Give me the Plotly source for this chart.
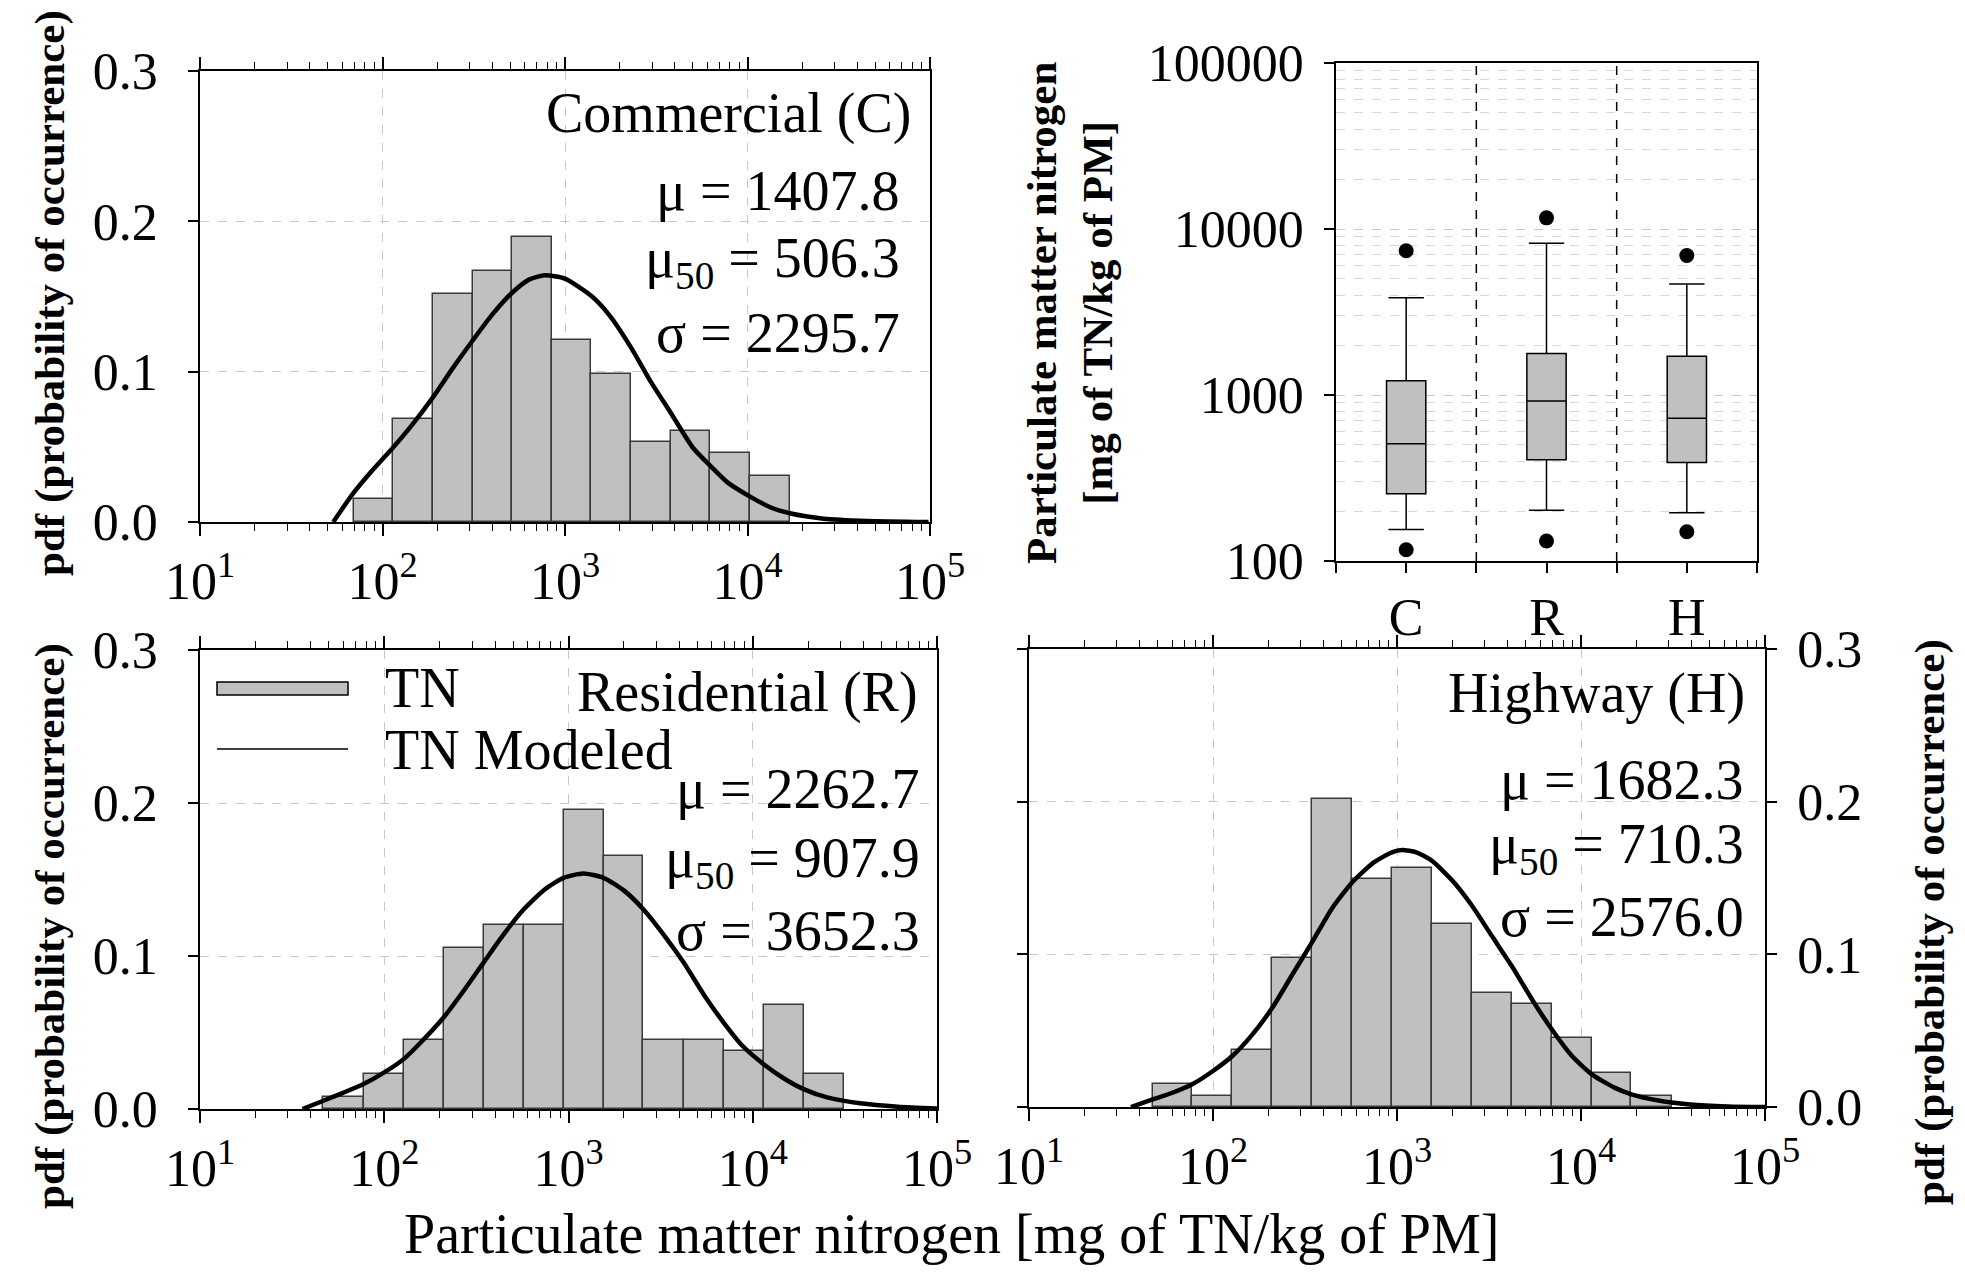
import numpy as np
import plotly.graph_objects as go

# ---------------- data ----------------
# histogram bin edges (log10 of mg TN / kg PM) and pdf heights
C_edges_log10 = [1.842, 2.059, 2.276, 2.494, 2.711, 2.928, 3.145, 3.363, 3.580, 3.797, 4.014, 4.232]
C_pdf = [0.0155, 0.0683, 0.1517, 0.1672, 0.1896, 0.1213, 0.0987, 0.0532, 0.0608, 0.0457, 0.0306]

R_edges_log10 = [1.670, 1.888, 2.105, 2.322, 2.539, 2.756, 2.973, 3.190, 3.407, 3.625, 3.842, 4.059, 4.276, 4.493]
R_pdf = [0.0076, 0.0228, 0.0452, 0.1054, 0.1204, 0.1204, 0.1954, 0.1654, 0.0452, 0.0452, 0.0378, 0.0678, 0.0228]

H_edges_log10 = [1.672, 1.887, 2.105, 2.323, 2.538, 2.756, 2.972, 3.190, 3.408, 3.623, 3.841, 4.059, 4.274, 4.492]
H_pdf = [0.0153, 0.0074, 0.0374, 0.0973, 0.2015, 0.1493, 0.1567, 0.1196, 0.0750, 0.0673, 0.0450, 0.0225, 0.0074]

# modeled curves (log10 x, pdf)
C_curve_log10 = [1.730, 1.842, 1.933, 2.057, 2.172, 2.275, 2.387, 2.492, 2.602, 2.710, 2.805, 2.889, 2.999,
                 3.145, 3.247, 3.362, 3.462, 3.579, 3.701, 3.797, 3.892, 4.014, 4.131, 4.232, 4.418, 4.657, 4.992]
C_curve_pdf = [0.0, 0.0195, 0.0328, 0.0494, 0.0661, 0.0827, 0.1027, 0.1204, 0.1381, 0.1525, 0.1614, 0.1641, 0.1619,
               0.1503, 0.1370, 0.1160, 0.0949, 0.0727, 0.0494, 0.0373, 0.0262, 0.0169, 0.0095, 0.0058, 0.0022, 0.0007, 0.0]

R_curve_log10 = [1.556, 1.670, 1.773, 1.888, 2.000, 2.105, 2.207, 2.322, 2.437, 2.539, 2.641, 2.756, 2.871, 2.973,
                 3.080, 3.190, 3.305, 3.407, 3.522, 3.625, 3.739, 3.842, 3.944, 4.059, 4.174, 4.276, 4.404, 4.582,
                 4.787, 5.0]
R_curve_pdf = [0.0, 0.0054, 0.0104, 0.0163, 0.0239, 0.0326, 0.0446, 0.0598, 0.0783, 0.0957, 0.1130, 0.1304, 0.1435,
               0.1511, 0.1539, 0.1511, 0.1424, 0.1304, 0.1130, 0.0957, 0.0739, 0.0565, 0.0413, 0.0293, 0.0196,
               0.0130, 0.0076, 0.0037, 0.0015, 0.0004]

H_curve_log10 = [1.554, 1.672, 1.772, 1.887, 2.000, 2.105, 2.208, 2.323, 2.438, 2.538, 2.644, 2.756, 2.874, 2.972,
                 3.028, 3.105, 3.190, 3.310, 3.408, 3.515, 3.623, 3.733, 3.841, 3.951, 4.059, 4.182, 4.274, 4.413,
                 4.592, 4.797, 5.0]
H_curve_pdf = [0.0, 0.0050, 0.0090, 0.0149, 0.0236, 0.0334, 0.0466, 0.0651, 0.0881, 0.1078, 0.1296, 0.1471, 0.1602,
               0.1668, 0.1683, 0.1668, 0.1613, 0.1471, 0.1318, 0.1121, 0.0925, 0.0706, 0.0509, 0.0334, 0.0214,
               0.0127, 0.0083, 0.0044, 0.0017, 0.0004, 0.0]

# box plot statistics (mg of TN / kg of PM)
box_categories = ["C", "R", "H"]
box_lowerfence = [155, 202, 195]
box_q1 = [254, 407, 392]
box_median = [509, 921, 725]
box_q3 = [1218, 1778, 1710]
box_upperfence = [3853, 8206, 4670]
box_outlier_high = [7396, 11670, 6918]
box_outlier_low = [117, 132, 150]

# statistics text
panel_titles = ["Commercial (C)", "Residential (R)", "Highway (H)"]
panel_mu = ["1407.8", "2262.7", "1682.3"]
panel_mu50 = ["506.3", "907.9", "710.3"]
panel_sigma = ["2295.7", "3652.3", "2576.0"]

x_ticks_log10 = [1, 2, 3, 4, 5]
x_tick_text = ["10<sup>1</sup>", "10<sup>2</sup>", "10<sup>3</sup>", "10<sup>4</sup>", "10<sup>5</sup>"]
y_ticks = [0.0, 0.1, 0.2, 0.3]
y_tick_text = ["0.0", "0.1", "0.2", "0.3"]
box_y_ticks = [100, 1000, 10000, 100000]
box_y_tick_text = ["100", "1000", "10000", "100000"]

# ---------------- layout helpers ----------------
# the page has an 8 px body margin, so the figure is drawn 16 px smaller
OFF = 8
W, H = 1965 - 2 * OFF, 1274 - 2 * OFF
FONT = "Liberation Serif, Times New Roman, serif"
TICK_SIZE = 52
TEXT_SIZE = 56


def px_x(v):
    return (v - OFF) / W


def px_y(v):
    return 1 - (v - OFF) / H


minor_log = [np.log10(k * 10 ** n) for n in range(1, 5) for k in range(2, 10)]

GRID = "#c8c8c8"
BAR_FILL = "#c0c0c0"
BAR_LINE = "#3a3a3a"


def hist_xaxis(dom, anchor):
    return dict(domain=dom, anchor=anchor, range=[1, 5], tickmode="array",
                tickvals=x_ticks_log10, ticktext=x_tick_text, automargin=False,
                showline=True, linecolor="black", linewidth=1.5, mirror="ticks",
                ticks="outside", ticklen=12, tickwidth=1.5, tickcolor="black",
                showgrid=True, gridcolor=GRID, griddash="dash", gridwidth=1.2,
                zeroline=False, ticklabelstandoff=1,
                tickfont=dict(family=FONT, size=TICK_SIZE, color="black"),
                minor=dict(tickmode="array", tickvals=minor_log, ticks="outside", ticklen=7,
                           tickwidth=1, tickcolor="black", showgrid=False))


def hist_yaxis(dom, anchor, side="left", standoff=20, mirror=True):
    return dict(domain=dom, anchor=anchor, range=[0, 0.3], tickmode="array",
                tickvals=y_ticks, ticktext=y_tick_text, side=side, automargin=False,
                showline=True, linecolor="black", linewidth=1.5, mirror=mirror,
                ticks="outside", ticklen=10, tickwidth=1.5, tickcolor="black",
                showgrid=True, gridcolor=GRID, griddash="dash", gridwidth=1.2,
                zeroline=False, ticklabelstandoff=standoff,
                tickfont=dict(family=FONT, size=TICK_SIZE, color="black"))


fig = go.Figure()

hist_sets = [
    (C_edges_log10, C_pdf, C_curve_log10, C_curve_pdf, "x", "y"),
    (R_edges_log10, R_pdf, R_curve_log10, R_curve_pdf, "x3", "y3"),
    (H_edges_log10, H_pdf, H_curve_log10, H_curve_pdf, "x4", "y4"),
]
for edges, pdf, cx, cy, xa, ya in hist_sets:
    e = np.array(edges)
    centers = (e[:-1] + e[1:]) / 2
    widths = e[1:] - e[:-1]
    fig.add_trace(go.Bar(x=centers, y=pdf, width=widths, name="TN",
                         marker=dict(color=BAR_FILL, line=dict(color=BAR_LINE, width=1.5)),
                         xaxis=xa, yaxis=ya, showlegend=False))
    fig.add_trace(go.Scatter(x=cx, y=cy, mode="lines", name="TN Modeled",
                             line=dict(color="black", width=4.5, shape="spline", smoothing=0.6),
                             xaxis=xa, yaxis=ya, showlegend=False))

# box plot
box_x = [0.5, 1.5, 2.5]
fig.add_trace(go.Box(x=box_x, q1=box_q1, median=box_median, q3=box_q3,
                     lowerfence=box_lowerfence, upperfence=box_upperfence,
                     width=0.28, whiskerwidth=0.9, fillcolor=BAR_FILL,
                     line=dict(color="black", width=1.5), boxpoints=False,
                     xaxis="x2", yaxis="y2", showlegend=False, name="TN"))
fig.add_trace(go.Scatter(x=box_x + box_x, y=box_outlier_high + box_outlier_low, mode="markers",
                         marker=dict(color="black", size=15), xaxis="x2", yaxis="y2",
                         showlegend=False))

layout = dict(
    width=W, height=H, margin=dict(l=0, r=0, t=0, b=0, pad=0, autoexpand=False),
    paper_bgcolor="white", plot_bgcolor="white",
    font=dict(family=FONT, color="black"),
    bargap=0, showlegend=False,
    xaxis=hist_xaxis([px_x(200), px_x(930)], "y"),
    yaxis=hist_yaxis([px_y(522), px_y(71)], "x"),
    xaxis3=hist_xaxis([px_x(200), px_x(937)], "y3"),
    yaxis3=hist_yaxis([px_y(1109), px_y(650)], "x3"),
    xaxis4=hist_xaxis([px_x(1029), px_x(1765)], "y4"),
    yaxis4=hist_yaxis([px_y(1107), px_y(649)], "x4", side="right", standoff=10, mirror="ticks"),
    xaxis2=dict(domain=[px_x(1336), px_x(1757)], anchor="y2", range=[0, 3], automargin=False,
                tickmode="array", tickvals=box_x, ticktext=box_categories,
                showline=True, linecolor="black", linewidth=1.5, mirror=True,
                ticks="outside", ticklen=10, tickwidth=1.5, tickcolor="black",
                showgrid=False, zeroline=False, ticklabelstandoff=0,
                tickfont=dict(family=FONT, size=TICK_SIZE, color="black"),
                minor=dict(tickmode="array", tickvals=[0, 1, 2, 3], ticks="outside", ticklen=10,
                           tickwidth=1.5, tickcolor="black", showgrid=False)),
    yaxis2=dict(domain=[px_y(561), px_y(63)], anchor="x2", type="log", range=[2, 5], automargin=False,
                tickmode="array", tickvals=box_y_ticks, ticktext=box_y_tick_text,
                showline=True, linecolor="black", linewidth=1.5, mirror=True,
                ticks="outside", ticklen=10, tickwidth=1.5, tickcolor="black",
                showgrid=True, gridcolor=GRID, griddash="dash", gridwidth=1.2,
                zeroline=False, ticklabelstandoff=10,
                tickfont=dict(family=FONT, size=TICK_SIZE, color="black"),
                minor=dict(dtick="D1", showgrid=True, gridcolor="#d8d8d8", griddash="dash",
                           gridwidth=1.2, ticks="")),
)
fig.update_layout(**layout)

shapes = []
# separators in box plot
for xs in [1, 2]:
    shapes.append(dict(type="line", xref="x2", yref="y2 domain", x0=xs, x1=xs, y0=0, y1=1,
                       line=dict(color="black", width=1.5, dash="dash")))
# custom legend (bottom-left panel)
shapes.append(dict(type="rect", xref="paper", yref="paper", x0=px_x(217), x1=px_x(348),
                   y0=px_y(695), y1=px_y(682), fillcolor=BAR_FILL, line=dict(color="black", width=1.5)))
shapes.append(dict(type="line", xref="paper", yref="paper", x0=px_x(217), x1=px_x(348),
                   y0=px_y(749), y1=px_y(749), line=dict(color="black", width=1.5)))
fig.update_layout(shapes=shapes)

ann = []


def add_text(text, x, y, size, xanchor="right", yanchor="middle", angle=0, bold=False):
    if bold:
        text = "<b>" + text + "</b>"
    ann.append(dict(text=text, x=px_x(x), y=px_y(y), xref="paper", yref="paper",
                    xanchor=xanchor, yanchor=yanchor, showarrow=False, textangle=angle,
                    font=dict(family=FONT, size=size, color="black")))


# panel texts: (title_x, title_y, stat_x, mu_y, mu50_y, sigma_y)
pos = [
    (913, 113, 902, 191, 262, 333),
    (920, 692, 922, 789, 862, 931),
    (1747, 693, 1746, 780, 848, 917),
]
for i, (tx, ty, sx, my, m50y, sy) in enumerate(pos):
    add_text(panel_titles[i], tx, ty, TEXT_SIZE)
    add_text("μ = " + panel_mu[i], sx, my, TEXT_SIZE)
    add_text("μ<sub>50</sub> = " + panel_mu50[i], sx, m50y, TEXT_SIZE)
    add_text("σ = " + panel_sigma[i], sx, sy, TEXT_SIZE)

# legend text
add_text("TN", 383, 688, TEXT_SIZE, xanchor="left")
add_text("TN Modeled", 383, 750, TEXT_SIZE, xanchor="left")

# axis titles
add_text("pdf (probability of occurrence)", 50, 293, 43, xanchor="center", angle=-90, bold=True)
add_text("pdf (probability of occurrence)", 50, 926, 43, xanchor="center", angle=-90, bold=True)
add_text("pdf (probability of occurrence)", 1930, 922, 43, xanchor="center", angle=-90, bold=True)
add_text("Particulate matter nitrogen<br>[mg of TN/kg of PM]", 1069, 313, 43, xanchor="center",
         angle=-90, bold=True)
add_text("Particulate matter nitrogen [mg of TN/kg of PM]", 951, 1234, 56, xanchor="center")

fig.update_layout(annotations=ann)

fig.write_html("out.html")
